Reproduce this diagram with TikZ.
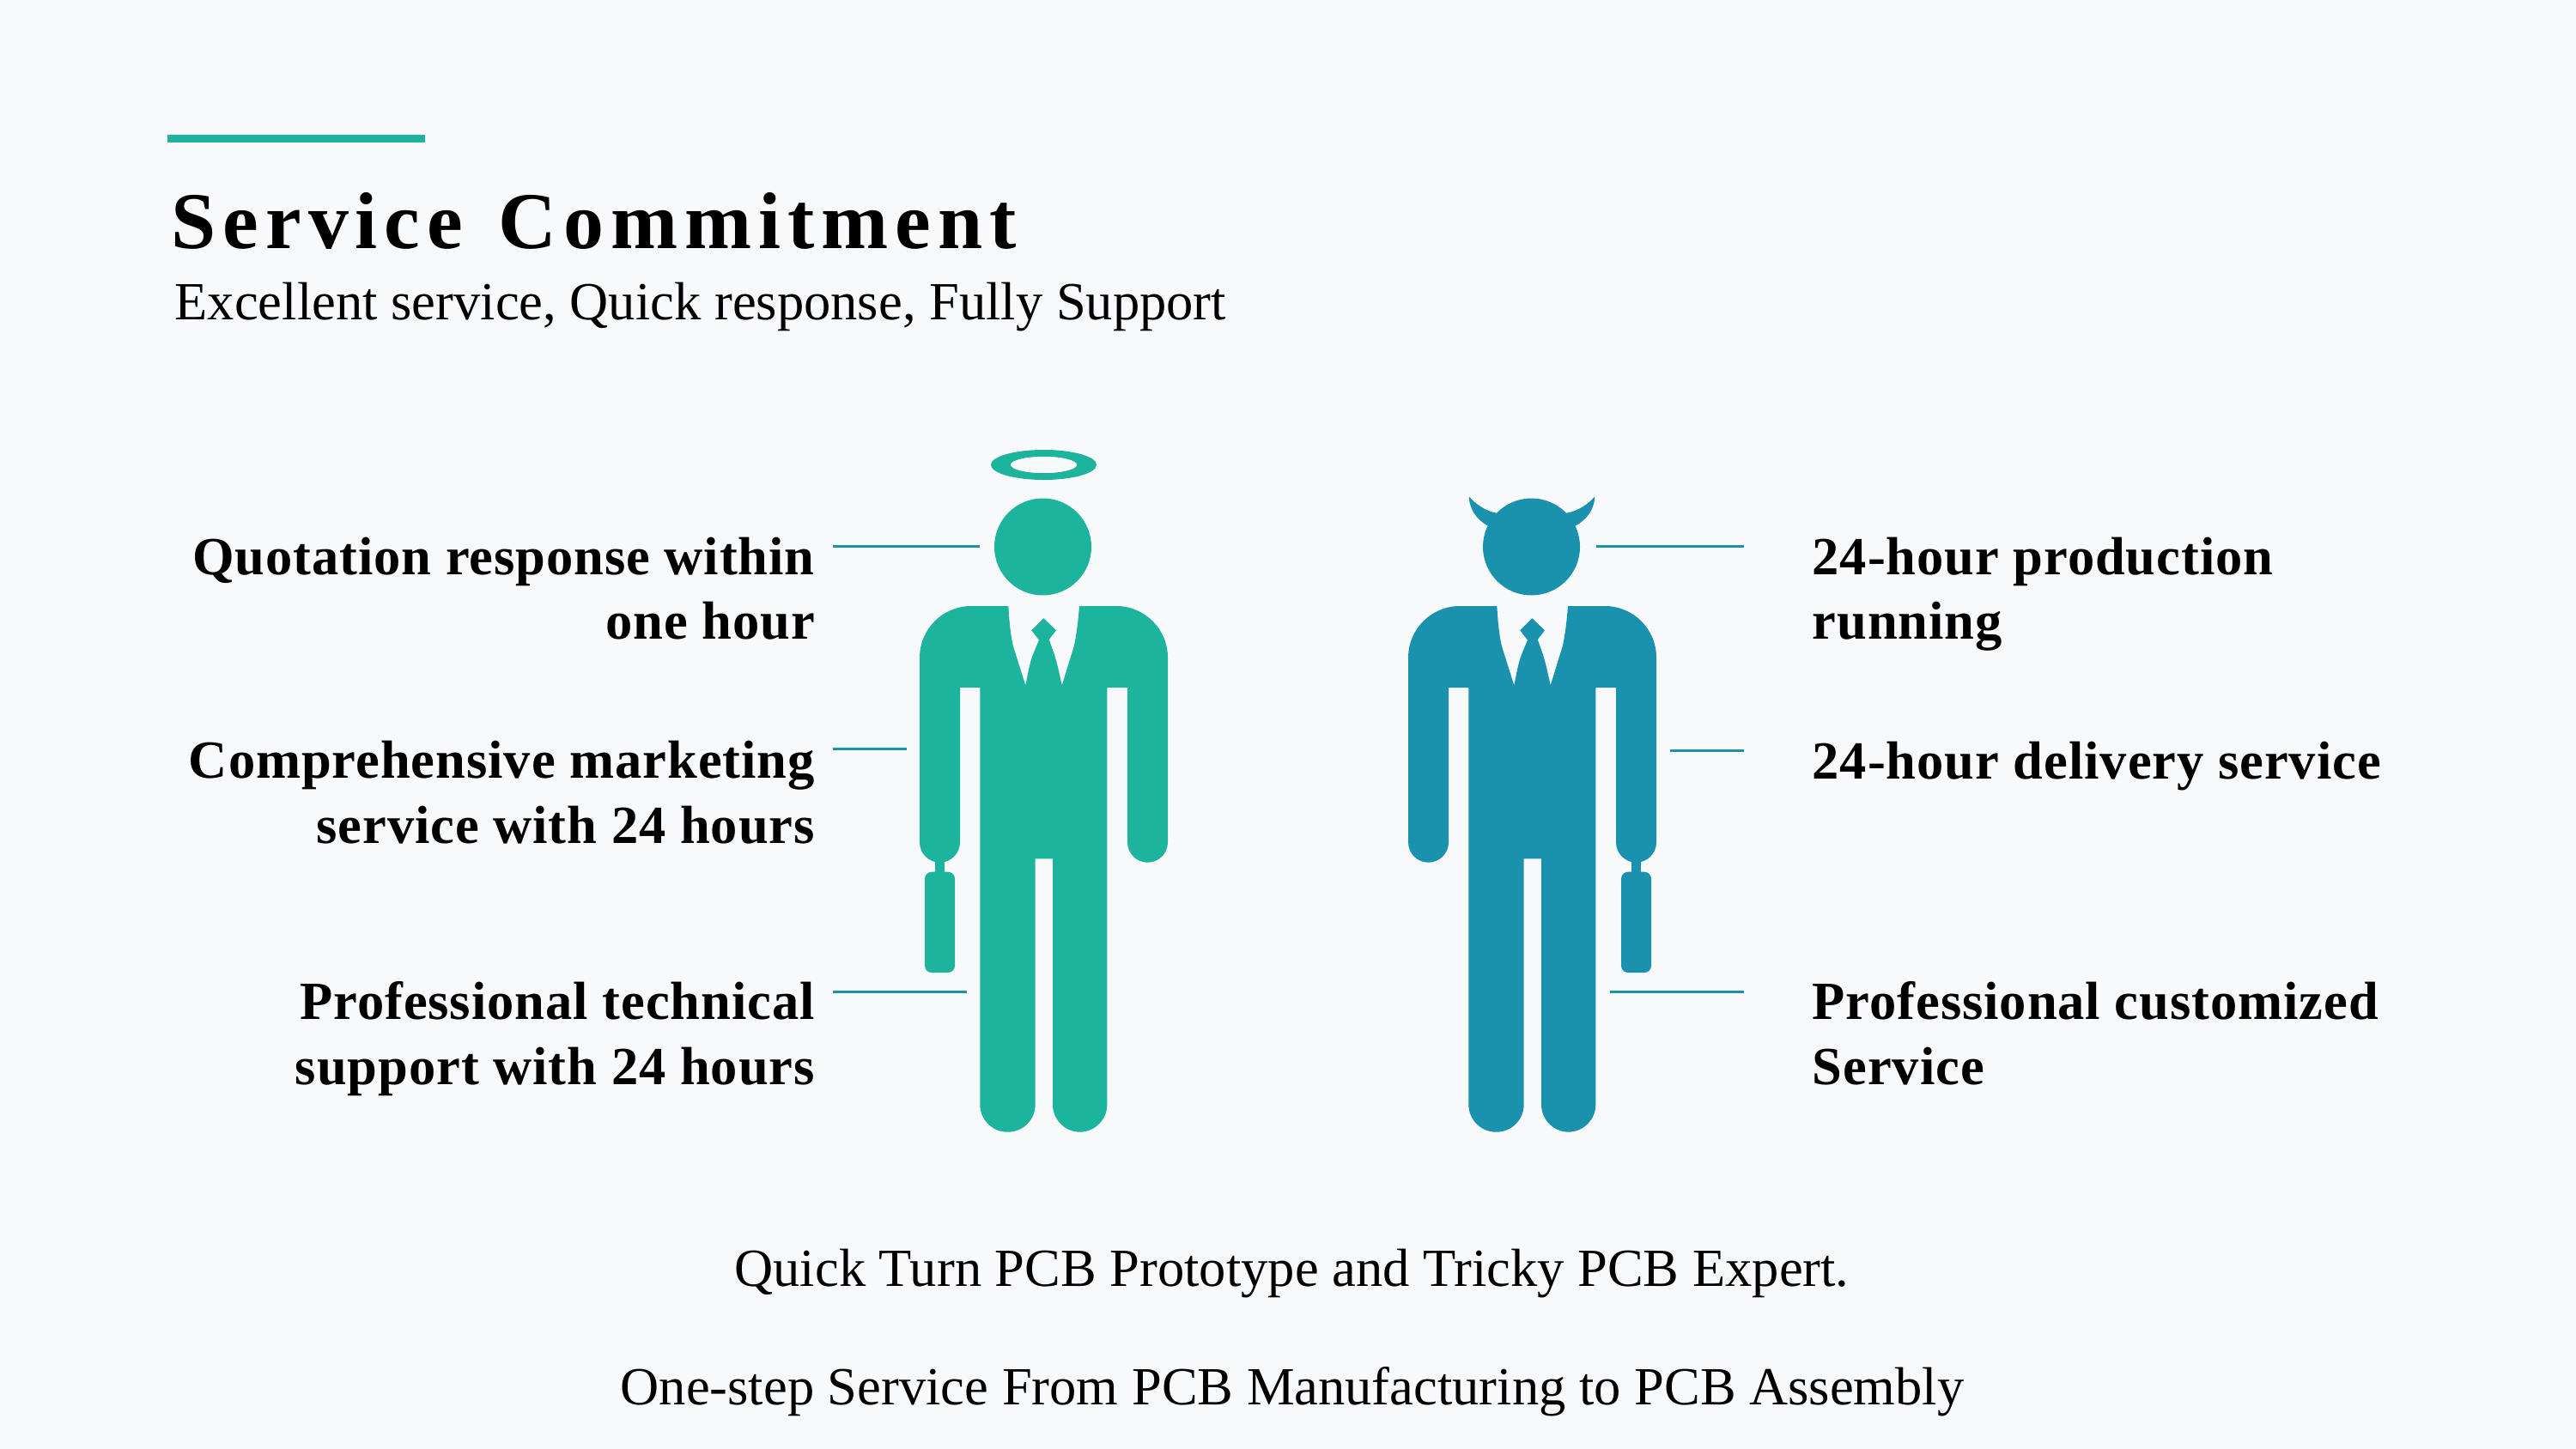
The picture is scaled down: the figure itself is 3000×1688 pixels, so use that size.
\documentclass[tikz,border=0pt]{standalone}
\usepackage{fontspec}
\setmainfont{Liberation Serif}
\newfontfamily\titlefont[LetterSpace=8.5,WordSpace=1.32]{Liberation Serif}
\newfontfamily\labelfont[LetterSpace=1.5]{Liberation Serif}
\definecolor{pagebg}{HTML}{F8F9FB}
\definecolor{mangreen}{HTML}{1CB49C}
\definecolor{manblue}{HTML}{1A92AD}
\tikzset{
  labeltxt/.style={inner sep=0pt, font=\labelfont\bfseries\fontsize{17.78}{21.34}\selectfont},
  plaintxt/.style={inner sep=0pt, font=\fontsize{17.78}{21.34}\selectfont},
  tick/.style={draw=manblue, line width=.75pt},
  suitman/.pic={
    \fill[pic actions] (1214.5,637) circle[radius=56.5];
    \fill[pic actions] (1174.3,706) .. controls (1175.5,725) and (1177,741) .. (1180,753) -- (1194.3,798.3)
      .. controls (1197,786) and (1199,772) .. (1203.3,761.7) -- (1210,745.7) -- (1201.3,734.3) -- (1215.3,720.3)
      -- (1230,734.3) -- (1221.7,745) -- (1227.7,761.7) .. controls (1231,772) and (1234,786) .. (1236.7,798.3)
      -- (1250.7,753) .. controls (1253.5,741) and (1255.5,725) .. (1257,706)
      [rounded corners=.6cm] -- (1360,706) [rounded corners=.235cm] -- (1360,1004.7) -- (1313,1004.7)
      [sharp corners] -- (1313,801) -- (1289.3,801) [rounded corners=.32cm] -- (1289.3,1318.7) -- (1226,1318.7)
      [sharp corners] -- (1226,1000.3) -- (1205.7,1000.3) [rounded corners=.32cm] -- (1205.7,1318.7) -- (1141.3,1318.7)
      [sharp corners] -- (1141.3,801) -- (1118,801) [rounded corners=.235cm] -- (1118,1004.7) -- (1071,1004.7)
      [rounded corners=.6cm] -- (1071,706) [sharp corners] -- cycle;
  },
  briefcase/.pic={
    \fill[pic actions] (1089,1000) rectangle (1100.3,1020);
    \fill[pic actions, rounded corners=.08cm] (1077,1015.7) rectangle (1112,1133);
  }
}
\begin{document}
\begin{tikzpicture}[x=0.01cm, y=-0.01cm]
\useasboundingbox (0,0) rectangle (3000,1688);
\fill[pagebg] (0,0) rectangle (3000,1688);
\fill[mangreen] (195,157) rectangle (495,166);

\node[anchor=base west, inner sep=0pt, font=\titlefont\bfseries\fontsize{26.67}{32}\selectfont] (title) at (199,289) {Service Commitment};
\node[anchor=base west, plaintxt] (subtitle) at (203,372) {Excellent service, Quick response, Fully Support};

\pic[fill=mangreen] (angel) at (0,0) {suitman};
\pic[fill=mangreen] (angelcase) at (0,0) {briefcase};
\fill[mangreen, even odd rule] (1215.5,541.5) ellipse[x radius=61.5, y radius=17.5] (1215.5,541.5) ellipse[x radius=38.7, y radius=9.7];

\pic[fill=manblue] (devil) at (569,0) {suitman};
\pic[fill=manblue] (devilcase) at (811,0) {briefcase};
\fill[manblue] (1710.7,578.3) .. controls (1711,592) and (1719,605) .. (1732.3,612.3) -- (1750,620) -- (1742.7,597.7) .. controls (1730,595) and (1719,588) .. (1710.7,578.3);
\fill[manblue] (1857.3,578.3) .. controls (1857,592) and (1849,605) .. (1835,612.3) -- (1818,620) -- (1824.3,597.7) .. controls (1838,595) and (1849,588) .. (1857.3,578.3);

\node[anchor=base east, labeltxt, align=right] (ltxt0) at (949.5,744.3) {Quotation response within\\one hour};
\node[anchor=base east, labeltxt, align=right] (ltxt1) at (949.5,982) {Comprehensive marketing\\service with 24 hours};
\node[anchor=base east, labeltxt, align=right] (ltxt2) at (949.5,1263) {Professional technical\\support with 24 hours};
\node[anchor=base west, labeltxt, align=left] (rtxt0) at (2110,744.3) {24-hour production\\running};
\node[anchor=base west, labeltxt] (rtxt1) at (2110,907) {24-hour delivery service};
\node[anchor=base west, labeltxt, align=left] (rtxt2) at (2110,1263) {Professional customized\\Service};

\coordinate (la0) at (970,636.3);
\coordinate (lb0) at (1141,636.3);
\coordinate (la1) at (970,872.3);
\coordinate (lb1) at (1055.7,872.3);
\coordinate (la2) at (970,1155.3);
\coordinate (lb2) at (1126,1155.3);
\coordinate (ra0) at (1859.3,636.3);
\coordinate (rb0) at (2030.7,636.3);
\coordinate (ra1) at (1945,874.3);
\coordinate (rb1) at (2030.7,874.3);
\coordinate (ra2) at (1875,1155.3);
\coordinate (rb2) at (2030.7,1155.3);
\draw[tick] (la0) -- (lb0);
\draw[tick] (la1) -- (lb1);
\draw[tick] (la2) -- (lb2);
\draw[tick] (ra0) -- (rb0);
\draw[tick] (ra1) -- (rb1);
\draw[tick] (ra2) -- (rb2);

\node[anchor=base, plaintxt] (foot0) at (1504.5,1498.5) {Quick Turn PCB Prototype and Tricky PCB Expert.};
\node[anchor=base, plaintxt] (foot1) at (1505,1636.5) {One-step Service From PCB Manufacturing to PCB Assembly};
\end{tikzpicture}
\end{document}
